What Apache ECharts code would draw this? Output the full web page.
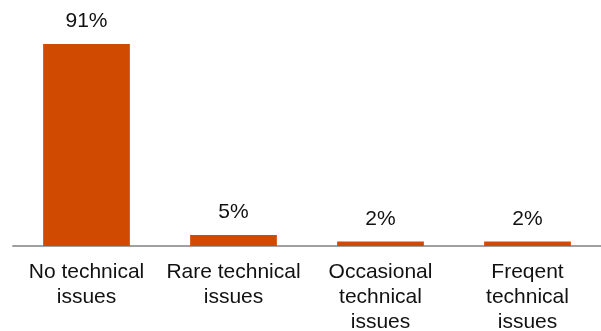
<!DOCTYPE html>
<html>
<head>
<meta charset="utf-8">
<script src="https://cdn.jsdelivr.net/npm/echarts@6/dist/echarts.min.js"></script>
<style>
  html, body { margin: 0; padding: 0; background: #fff; }
  #main { width: 601px; height: 331px; }
</style>
</head>
<body>
<div id="main"></div>
<script>
var categories = ['No technical\nissues', 'Rare technical\nissues', 'Occasional\ntechnical\nissues', 'Freqent\ntechnical\nissues'];
var values = [91, 5, 2, 2];

var chart = echarts.init(document.getElementById('main'));
var option = {
    animation: false,
    grid: { left: 13, right: 0, top: 24, bottom: 85, outerBoundsMode: 'none' },
    xAxis: {
        type: 'category',
        data: categories,
        axisTick: { show: false },
        axisLine: { lineStyle: { color: '#a0a0a0', width: 2 } },
        axisLabel: {
            color: '#111',
            fontFamily: 'Liberation Sans',
            fontSize: 21,
            lineHeight: 25,
            margin: 14,
            interval: 0
        }
    },
    yAxis: {
        type: 'value',
        min: 0,
        max: 100,
        show: false,
        splitLine: { show: false }
    },
    series: [{
        type: 'bar',
        data: values,
        barWidth: '59%',
        itemStyle: { color: '#D04A02' },
        label: {
            show: true,
            position: 'top',
            distance: 12,
            formatter: '{c}%',
            color: '#111',
            fontFamily: 'Liberation Sans',
            fontSize: 21
        }
    }]
};
chart.setOption(option);
</script>
</body>
</html>
